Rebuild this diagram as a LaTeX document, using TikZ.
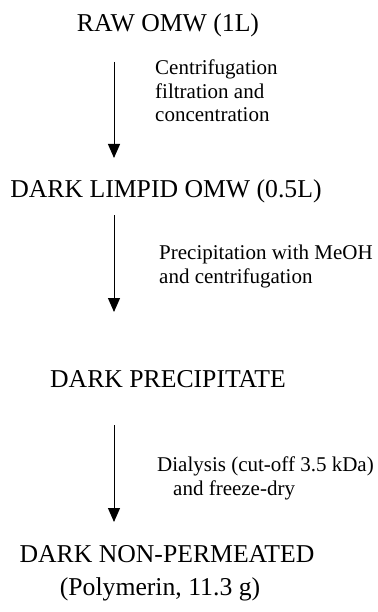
\documentclass[tikz,border=0pt]{standalone}
\usepackage{fontspec}
\setmainfont{Liberation Serif}
\usetikzlibrary{arrows.meta}

\begin{document}
\begin{tikzpicture}[x=1pt,y=-1pt,
    stage/.style={anchor=base,inner sep=0pt,font=\fontsize{25.7}{30}\selectfont},
    treat/.style={anchor=base west,inner sep=0pt,align=left,font=\fontsize{21}{23.5}\selectfont},
    flow/.style={line width=1pt,-{Triangle[length=14pt,width=12pt]}}]
    \useasboundingbox (0,0) rectangle (377,612);

    % draw stages
    \node[stage] (raw)     at (168,32)  {RAW OMW (1L)};
    \node[stage] (limpid)  at (166,198) {DARK LIMPID OMW (0.5L)};
    \node[stage] (precip)  at (168,387) {DARK PRECIPITATE};
    \node[stage] (nonperm) at (167,562) {DARK NON-PERMEATED};
    \node[stage] (polym)   at (160,595) {(Polymerin, 11.3 g)};

    % draw arrow ends
    \coordinate (a1) at (114,62);  \coordinate (b1) at (114,158);
    \coordinate (a2) at (114,215); \coordinate (b2) at (114,312);
    \coordinate (a3) at (114,425); \coordinate (b3) at (114,522);

    % draw arrows
    \draw[flow] (a1) -- (b1);
    \draw[flow] (a2) -- (b2);
    \draw[flow] (a3) -- (b3);

    % draw treatment labels (base = last line)
    \node[treat] (centr) at (155,122) {Centrifugation\\filtration and\\concentration};
    \node[treat] (meoh)  at (159,283) {Precipitation with MeOH\\and centrifugation};
    \node[treat] (dialy) at (157,495) {Dialysis (cut-off 3.5 kDa)\\\hspace*{16pt}and freeze-dry};

\end{tikzpicture}
\end{document}
